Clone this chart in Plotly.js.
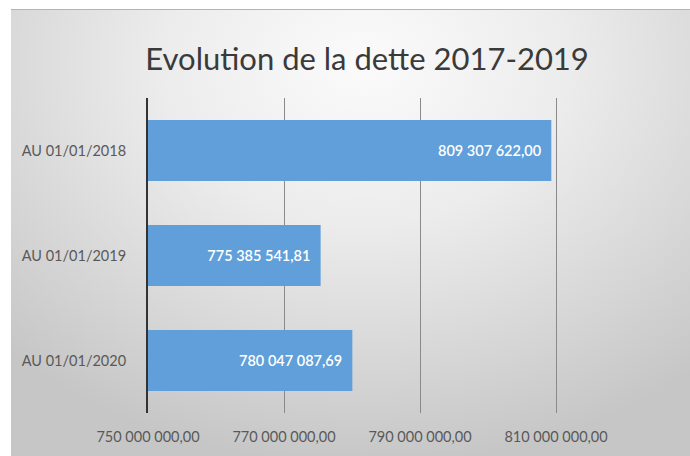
<!DOCTYPE html>
<html>
<head>
<meta charset="utf-8">
<script src="https://cdn.plot.ly/plotly-3.0.1.min.js"></script>
<style>
  html, body { margin: 0; padding: 0; background: #ffffff; }
  #wrap { position: relative; width: 690px; height: 456px; overflow: hidden; }
  #bg { position: absolute; left: 11px; top: 9px; width: 679px; height: 447px;
        border-top: 1px solid #b4b4b4;
        background: radial-gradient(ellipse 75% 90% at 52% 12%, #fbfbfb 0%, #ececec 40%, #d6d6d6 75%, #c6c6c6 100%); }
  #chart { position: absolute; left: 0; top: 0; width: 690px; height: 456px; }
</style>
</head>
<body>
<div id="wrap">
  <div id="bg"></div>
  <div id="chart"></div>
</div>
<script>
const categories = ["AU 01/01/2018", "AU 01/01/2019", "AU 01/01/2020"];
const values = [809307622.00, 775385541.81, 780047087.69];
const titleText = "Evolution de la dette 2017-2019";

const FONT = "Lato, 'Open Sans', sans-serif";

const trace = {
  type: "bar",
  orientation: "h",
  y: categories,
  x: values,
  base: 0,
  marker: { color: "#609fda" },
  texttemplate: "%{x:,.2f}\u00a0\u00a0",
  textposition: "inside",
  insidetextanchor: "end",
  textfont: { family: FONT, size: 14.5, color: "#ffffff", weight: 600 },
  hoverinfo: "skip",
  cliponaxis: true
};

const layout = {
  width: 690,
  height: 456,
  separators: ", ",
  paper_bgcolor: "rgba(0,0,0,0)",
  plot_bgcolor: "rgba(0,0,0,0)",
  margin: { l: 148, r: 0, t: 98, b: 43, pad: 0 },
  showlegend: false,
  bargap: 0.42,
  title: {
    text: titleText,
    font: { family: FONT, size: 31, color: "#3a3a3a" },
    x: 0.532, xanchor: "center",
    y: 0.87, yanchor: "middle"
  },
  xaxis: {
    range: [750000000, 829700000],
    tick0: 750000000,
    dtick: 20000000,
    tickformat: ",.2f",
    showgrid: true,
    gridcolor: "#8a8a8a",
    gridwidth: 1,
    zeroline: false,
    showline: false,
    ticks: "outside",
    ticklen: 11,
    tickcolor: "rgba(0,0,0,0)",
    tickfont: { family: FONT, size: 14.5, color: "#595959" },
    fixedrange: true
  },
  yaxis: {
    autorange: "reversed",
    showgrid: false,
    zeroline: false,
    showline: true,
    linecolor: "#333333",
    linewidth: 2,
    ticks: "outside",
    ticklen: 17,
    tickcolor: "rgba(0,0,0,0)",
    tickfont: { family: FONT, size: 14.5, color: "#595959" },
    fixedrange: true
  }
};

Plotly.newPlot("chart", [trace], layout, { displayModeBar: false, staticPlot: true });
</script>
</body>
</html>
